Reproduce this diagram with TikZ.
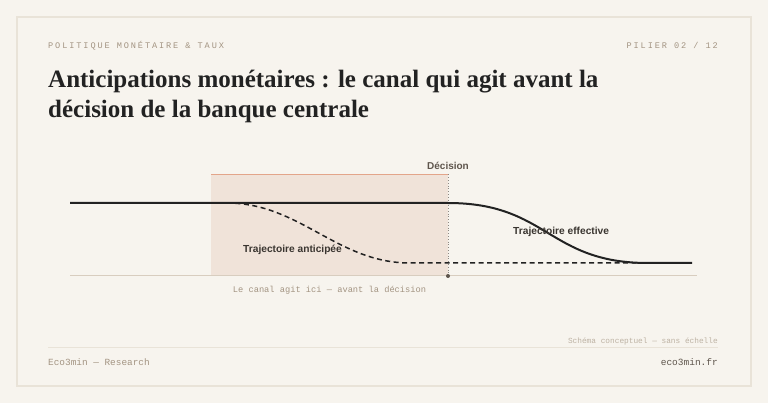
\documentclass[tikz,border=0pt]{standalone}
\usepackage{fontspec}
\setmainfont{Liberation Serif}
\setsansfont{Liberation Sans}
\setmonofont{Liberation Mono}
\newfontfamily\trackmono[LetterSpace=22]{Liberation Mono}
\definecolor{pagebg}{HTML}{F7F4EE}
\definecolor{cardline}{HTML}{E9E3D8}
\definecolor{tan}{HTML}{A39482}
\definecolor{lighttan}{HTML}{BDB2A3}
\definecolor{axis}{HTML}{D8CDBF}
\definecolor{zone}{HTML}{F0E3D9}
\definecolor{zonetop}{HTML}{E3A58A}
\definecolor{ink}{HTML}{222222}
\definecolor{labelink}{HTML}{3A3530}
\definecolor{decink}{HTML}{5E554C}
\begin{document}
\begin{tikzpicture}[x=1pt,y=-1pt,
  hdr/.style={font=\trackmono\fontsize{8.6}{10}\selectfont, text=tan, inner sep=0pt},
  chartlbl/.style={font=\sffamily\bfseries\fontsize{10.2}{12}\selectfont, text=labelink, inner sep=0pt},
  notelbl/.style={font=\ttfamily\fontsize{8.7}{10}\selectfont, text=tan, inner sep=0pt},
  foot/.style={font=\ttfamily\fontsize{9.4}{11}\selectfont, inner sep=0pt}]
\useasboundingbox (0,0) rectangle (768,403);
\fill[pagebg] (0,0) rectangle (768,403);
\draw[cardline, line width=1.2pt] (17,17) rectangle (751,386);
% header
\node[hdr, anchor=base west] (cat) at (48,49) {POLITIQUE MONÉTAIRE \& TAUX};
\node[hdr, anchor=base east] (pil) at (718,49) {PILIER 02 / 12};
% title
\node[anchor=base west, inner sep=0pt, text=ink,
  font=\bfseries\fontsize{25}{30}\selectfont] (title1) at (48,88)
  {Anticipations monétaires : le canal qui agit avant la};
\node[anchor=base west, inner sep=0pt, text=ink,
  font=\bfseries\fontsize{25}{30}\selectfont] (title2) at (48,118)
  {décision de la banque centrale};
% chart
\fill[zone] (211,174.5) rectangle (448,276);
\draw[zonetop, line width=1pt] (211,174.5) -- (448,174.5);
\draw[axis, line width=1pt] (70,276) coordinate (axl) -- (697,276) coordinate (axr);
\draw[decink!70, line width=0.8pt, dotted] (448,174.5) -- (448,276);
\fill[decink] (448,276) circle (2pt);
\node[font=\sffamily\bfseries\fontsize{10}{12}\selectfont, text=decink, inner sep=0pt, anchor=base] (dec) at (448,169.5) {Décision};
\draw[ink, line width=1.5pt, dash pattern=on 5pt off 3.5pt]
  (227,203) .. controls (300,203) and (337,263) .. (410,263) -- (645,263);
\draw[ink, line width=2pt]
  (70,203) -- (448,203) .. controls (548,203) and (548,263) .. (648,263) -- (692,263);
\node[chartlbl, anchor=west] (ant) at (243,250) {Trajectoire anticipée};
\node[chartlbl, anchor=west] (eff) at (513,232) {Trajectoire effective};
\node[notelbl, anchor=base] (note) at (329.5,292) {Le canal agit ici — avant la décision};
% footer
\node[font=\ttfamily\fontsize{7.8}{9}\selectfont, text=lighttan, inner sep=0pt, anchor=base east] (sch) at (718,343) {Schéma conceptuel — sans échelle};
\draw[cardline, line width=1pt] (48,347.5) -- (718,347.5);
\node[foot, text=decink, anchor=base east, font=\ttfamily\fontsize{9.5}{11}\selectfont] (site) at (718,365) {eco3min.fr};
\node[foot, text=tan, anchor=base west] (brand) at (48,365) {Eco3min — Research};
\end{tikzpicture}
\end{document}
